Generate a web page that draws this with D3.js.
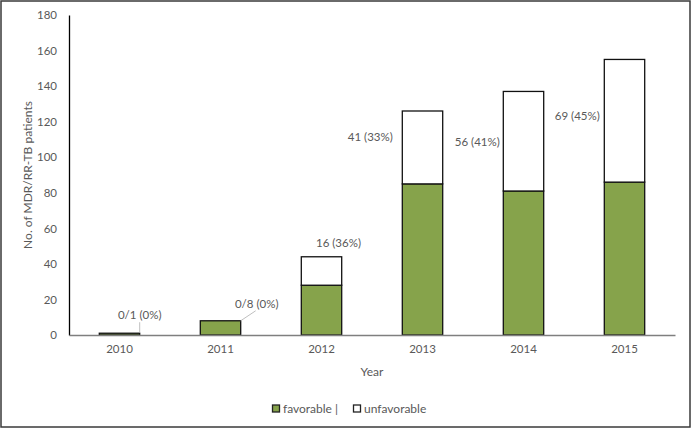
<!DOCTYPE html>
<html><head><meta charset="utf-8">
<script src="https://cdn.jsdelivr.net/npm/d3@7"></script>
<style>
body{margin:0;background:#fff;}
svg text{font-family:Lato,"Open Sans",sans-serif;fill:#595959;}
</style></head>
<body><svg id="c" width="692" height="429"></svg>
<script>
const years = ["2010","2011","2012","2013","2014","2015"];
const favorable = [1, 8, 28, 85, 81, 86];
const unfavorable = [0, 0, 16, 41, 56, 69];
const labels = ["0/1 (0%)","0/8 (0%)","16 (36%)","41 (33%)","56 (41%)","69 (45%)"];
const yTicks = [0,20,40,60,80,100,120,140,160,180];
const seriesNames = ["favorable |","unfavorable"];

const svg = d3.select("#c");
const W = 692, H = 429;
const m = {l:69, r:17, t:15, b:94};
const x = d3.scaleBand().domain(years).range([m.l, W - m.r]).paddingInner(0.6).paddingOuter(0.3);
const y = d3.scaleLinear().domain([0,180]).range([H - m.b, m.t]);

svg.append("rect").attr("x",1).attr("y",1).attr("width",689).attr("height",426)
  .attr("fill","#fff").attr("stroke","#3a3a3a").attr("stroke-width",1.5);

// y axis
const ya = svg.append("g").attr("transform",`translate(${m.l},0)`)
  .call(d3.axisLeft(y).tickValues(yTicks).tickSize(0).tickPadding(12));
ya.select(".domain").attr("stroke","#000").attr("stroke-width",1.3);
ya.selectAll("text").style("font-size","11.5px").style("fill","#595959");

const stack = years.map((yr,i)=>({yr, f:favorable[i], u:unfavorable[i]}));
const green = "#86A34B";
svg.append("g").selectAll("rect").data(stack).join("rect")
  .attr("x",d=>x(d.yr)).attr("width",x.bandwidth())
  .attr("y",d=>y(d.f)).attr("height",d=>y(0)-y(d.f))
  .attr("fill",green).attr("stroke","#111").attr("stroke-width",1.3);
svg.append("g").selectAll("rect").data(stack.filter(d=>d.u>0)).join("rect")
  .attr("x",d=>x(d.yr)).attr("width",x.bandwidth())
  .attr("y",d=>y(d.f+d.u)).attr("height",d=>y(d.f)-y(d.f+d.u))
  .attr("fill","#fff").attr("stroke","#111").attr("stroke-width",1.3);

// x axis
const xa = svg.append("g").attr("transform",`translate(0,${y(0)})`)
  .call(d3.axisBottom(x).tickSize(0).tickPadding(10));
xa.select(".domain").attr("stroke","#7f7f7f").attr("stroke-width",1.3);
xa.selectAll("text").style("font-size","11.5px").style("fill","#595959");

// data labels
const bw = x.bandwidth(), step = x.step();
const labelPos = [
  [x(years[0])+bw, y(favorable[0])-19],
  [x(years[1])+bw+16, y(favorable[1])-17],
  [x(years[2])+bw/2+17, y(favorable[2]+unfavorable[2])-14],
  [x(years[3])-32, y(favorable[3]+unfavorable[3])+25],
  [x(years[4])-26, y(favorable[4]+unfavorable[4])+50],
  [x(years[5])-27, y(favorable[5]+unfavorable[5])+56]
];
svg.append("g").selectAll("text").data(labels).join("text")
  .attr("x",(d,i)=>labelPos[i][0]).attr("y",(d,i)=>labelPos[i][1])
  .attr("text-anchor","middle").attr("dominant-baseline","central")
  .style("font-size","11.5px").text(d=>d);

// leader lines
svg.append("line").attr("x1",x(years[0])+bw).attr("y1",y(favorable[0])-1)
  .attr("x2",x(years[0])+bw).attr("y2",y(favorable[0])-11).attr("stroke","#bfbfbf");
svg.append("line").attr("x1",x(years[1])+bw).attr("y1",y(favorable[1]))
  .attr("x2",x(years[1])+bw+15).attr("y2",y(favorable[1])-10).attr("stroke","#bfbfbf");

// axis titles
svg.append("text").attr("transform",`translate(27,${(y(0)+y(180))/2}) rotate(-90)`)
  .attr("text-anchor","middle").attr("dominant-baseline","central")
  .style("font-size","12px").text("No. of MDR/RR-TB patients");
svg.append("text").attr("x",(m.l+W-m.r)/2).attr("y",371)
  .attr("text-anchor","middle").attr("dominant-baseline","central")
  .style("font-size","12px").text("Year");

// legend
const leg = svg.append("g");
const legX = [272, 353];
const legFill = [green, "#fff"];
seriesNames.forEach((n,i)=>{
  leg.append("rect").attr("x",legX[i]+0.5).attr("y",405).attr("width",7).attr("height",7)
    .attr("fill",legFill[i]).attr("stroke","#222").attr("stroke-width",1.3);
  leg.append("text").attr("x",legX[i]+11).attr("y",408.5).attr("dominant-baseline","central")
    .style("font-size","12px").text(n);
});
</script></body></html>
